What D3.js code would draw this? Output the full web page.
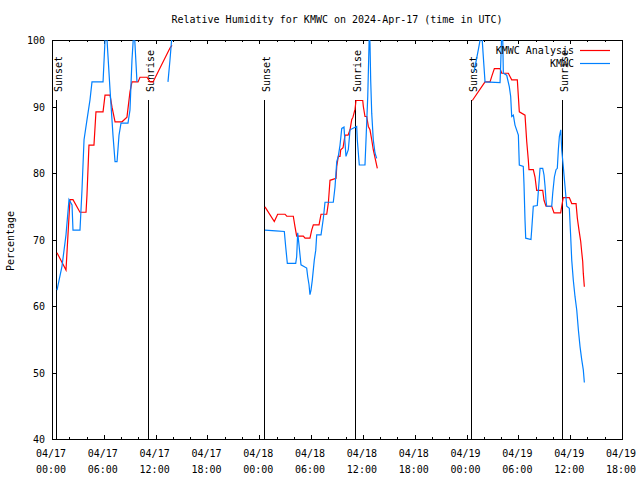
<!DOCTYPE html>
<html><head><meta charset="utf-8">
<script src="https://cdn.jsdelivr.net/npm/d3@7"></script>
<style>
body{margin:0;background:#fff;}
svg{display:block;}
text{font-family:"DejaVu Sans Mono",monospace;font-size:10px;fill:#000;}
</style></head><body>
<svg id="chart" width="640" height="480"></svg>
<script>
const titleText = "Relative Humidity for KMWC on 2024-Apr-17 (time in UTC)";
const yLabelText = "Percentage";
const seriesNames = ["KMWC Analysis", "KMWC"];
const seriesColors = ["#ff0000", "#0080ff"];
const yTicks = [40, 50, 60, 70, 80, 90, 100];
const xTickHours = [0, 6, 12, 18, 24, 30, 36, 42, 48, 54, 60, 66];
const xTickDates = ["04/17","04/17","04/17","04/17","04/18","04/18","04/18","04/18","04/19","04/19","04/19","04/19"];
const xTickTimes = ["00:00","06:00","12:00","18:00","00:00","06:00","12:00","18:00","00:00","06:00","12:00","18:00"];
const xMinorHours = d3.range(0, 67, 2);
const sunEventHours = [0.46, 11.12, 24.55, 35.09, 48.52, 59.06];
const sunEventLabels = ["Sunset", "Sunrise", "Sunset", "Sunrise", "Sunset", "Sunrise"];

// hours since 2024-04-17 00:00 UTC
const analysisHours = [
 0.58,1.62,2.08,2.43,3.24,3.94,4.05,4.28,4.86,5.09,5.91,6.14,6.72,6.95,7.30,8.11,8.68,9.03,9.26,9.96,10.19,11.00,11.35,11.70,13.66,13.90,
 24.66,25.74,26.13,26.98,27.18,27.94,28.14,28.33,29.10,29.30,29.87,30.07,30.26,30.92,31.15,31.81,32.00,32.19,32.89,32.97,33.15,33.35,33.43,33.70,33.93,34.28,34.51,34.70,34.85,35.09,35.20,35.98,36.05,36.24,36.44,36.63,36.82,37.02,37.20,37.40,37.67,
 48.67,50.14,50.72,50.91,51.22,51.88,52.07,52.84,53.03,53.23,53.88,54.00,54.11,54.77,54.97,55.15,55.23,55.73,55.93,56.12,56.82,56.97,57.20,57.86,58.13,58.90,59.02,59.20,59.90,60.18,60.68,60.83,61.02,61.22,61.33,61.45,61.52,61.64
];
const analysisRH = [
 68,65.4,76,76,74.1,74.1,76.7,84.2,84.2,89.2,89.2,91.7,91.7,89.9,87.7,87.7,88.4,92.2,93.7,93.7,94.4,94.4,93.7,93.7,98.8,99.2,
 74.9,72.7,73.8,73.8,73.5,73.5,71.9,70.5,70.5,70.2,70.2,71.4,72.2,72.2,73.8,73.8,75.5,78.9,79.2,81,82.5,82.5,83.5,83.8,85.7,85.7,86.5,88,88.4,89.6,90.9,90.9,90,88.5,88.5,87,86.5,85,83.5,82.3,80.7,
 90.9,93.7,93.7,94.5,95.7,95.7,95,95,94.5,94,94,91.5,89.2,88.7,84.7,82,80.5,80.5,79.4,77.4,77.4,75.9,75,75,74,74,75,76.3,76.3,75.4,75.4,73.2,71.4,69.7,68.2,66.7,64.9,62.9
];
const obsHours = [
 0.58,1.16,1.62,1.97,2.32,2.43,3.24,3.47,3.71,4.05,4.40,4.63,5.91,6.14,6.25,6.37,6.72,7.06,7.30,7.53,7.76,7.99,8.80,9.03,9.26,9.50,9.84,13.43,13.66,13.90,
 24.66,25.90,26.90,27.06,27.25,28.22,28.33,28.45,28.60,28.83,29.49,29.61,29.76,29.87,29.99,30.14,30.37,30.54,30.65,31.15,31.42,31.61,32.57,32.77,32.97,33.15,33.35,33.55,33.81,33.93,34.04,34.31,34.51,35.28,35.35,35.58,36.24,36.36,36.56,36.74,36.82,36.90,37.02,37.20,37.40,37.60,
 48.87,49.36,49.64,49.79,49.94,50.14,51.88,51.96,52.07,52.18,52.26,52.65,52.95,53.11,53.23,53.42,53.61,54.00,54.11,54.57,54.65,54.77,54.85,55.46,55.54,55.73,56.19,56.31,56.51,56.82,56.97,57.09,57.20,57.28,57.86,57.98,58.17,58.36,58.51,58.63,58.75,58.91,59.02,59.20,59.40,59.60,59.90,60.06,60.18,60.36,60.56,60.76,60.95,61.14,61.34,61.52,61.64
];
const obsRH = [
 62.4,66,70.7,76,75.2,71.4,71.4,77.4,85,88,91,93.7,93.7,100,102,100,92.5,85.7,81.7,81.7,85.7,87.5,87.5,89.5,97,102,93.7,93.7,97,100.8,
 71.4,71.3,71.2,68.9,66.4,66.4,67.4,71,69.2,66.2,65.7,64.4,63.2,61.7,62.4,63.9,66.9,68.4,70.7,70.7,73.2,75.6,75.6,77.9,81.7,82.5,84.2,86.7,86.9,84.5,82.5,83.5,86.5,87,85,81.2,81.2,85,91.5,101,99.5,94,89,85,83,82.2,
 95.2,98.5,100.5,100.5,97.5,93.7,93.6,96.5,101,101,95,94.7,93,91.5,88.5,88.7,87.2,85.7,81.2,81,78.4,72.9,70.2,70,71.4,75,75.1,77.2,80.7,80.7,79.7,78,75.9,75,75,77,79.4,80.5,80.7,83.5,85.5,86.5,83.5,81,78,75,74.7,70.4,66.9,63.9,61.4,59.4,56.4,53.9,51.9,50.4,48.5
];

const svg = d3.select("#chart");
const L = 52, R = 622, T = 40, B = 439;
const x = d3.scaleLinear().domain([0, 66]).range([L, R]);
const y = d3.scaleLinear().domain([40, 100]).range([B, T]);

svg.append("rect").attr("width", 640).attr("height", 480).attr("fill", "#fff");

// clip
svg.append("defs").append("clipPath").attr("id", "plotclip")
  .append("rect").attr("x", L).attr("y", T).attr("width", R - L + 1).attr("height", B - T + 1);

// axes ticks (inward, mirrored)
function styleAxis(g) {
  g.select(".domain").remove();
  g.selectAll(".tick line").attr("stroke", "#000").attr("shape-rendering", "crispEdges");
  g.selectAll(".tick text").remove();
}
svg.append("g").attr("transform", `translate(0,${B})`)
  .call(d3.axisBottom(x).tickValues(xMinorHours).tickSize(-2).tickFormat("")).call(styleAxis);
svg.append("g").attr("transform", `translate(0,${B})`)
  .call(d3.axisBottom(x).tickValues(xTickHours).tickSize(-4).tickFormat("")).call(styleAxis);
svg.append("g").attr("transform", `translate(0,${T})`)
  .call(d3.axisTop(x).tickValues(xMinorHours).tickSize(-2).tickFormat("")).call(styleAxis);
svg.append("g").attr("transform", `translate(0,${T})`)
  .call(d3.axisTop(x).tickValues(xTickHours).tickSize(-4).tickFormat("")).call(styleAxis);
svg.append("g").attr("transform", `translate(${L},0)`)
  .call(d3.axisLeft(y).tickValues(yTicks).tickSize(-5).tickFormat("")).call(styleAxis);
svg.append("g").attr("transform", `translate(${R},0)`)
  .call(d3.axisRight(y).tickValues(yTicks).tickSize(-5).tickFormat("")).call(styleAxis);

// tick labels
svg.append("g").selectAll("text").data(yTicks).join("text")
  .attr("x", 45).attr("y", d => y(d) + 4).attr("text-anchor", "end").text(d => d);
const xl = svg.append("g").selectAll("text").data(xTickHours).join("text")
  .attr("text-anchor", "middle");
xl.append("tspan").attr("x", d => x(d) - 1).attr("y", 457).text((d, i) => xTickDates[i]);
xl.append("tspan").attr("x", d => x(d) - 1).attr("y", 473).text((d, i) => xTickTimes[i]);

// frame
svg.append("rect").attr("x", L + 0.5).attr("y", T + 0.5).attr("width", R - L).attr("height", B - T)
  .attr("fill", "none").attr("stroke", "#000").attr("shape-rendering", "crispEdges");

// title & y label
svg.append("text").attr("x", (L + R) / 2).attr("y", 23).attr("text-anchor", "middle").text(titleText);
svg.append("text").attr("transform", `translate(14,241) rotate(-90)`).attr("text-anchor", "middle").text(yLabelText);

// sunrise / sunset markers
const sun = svg.append("g");
sunEventHours.forEach((h, i) => {
  const sx = Math.round(x(h)) + 0.5;
  sun.append("line").attr("x1", sx).attr("x2", sx).attr("y1", y(91)).attr("y2", B)
    .attr("stroke", "#000").attr("shape-rendering", "crispEdges");
  sun.append("text").attr("transform", `translate(${sx + 5},92) rotate(-90)`).text(sunEventLabels[i]);
});

// series
function makeData(hours, vals) {
  const n = Math.min(hours.length, vals.length);
  const out = [];
  for (let i = 0; i < n; i++) {
    if (i > 0 && hours[i] - hours[i - 1] > 3) out.push(null);
    out.push({ h: hours[i], v: vals[i] });
  }
  return out;
}
const line = d3.line().defined(d => d !== null).x(d => x(d.h)).y(d => y(d.v));
const plot = svg.append("g").attr("clip-path", "url(#plotclip)");
plot.append("path").datum(makeData(analysisHours, analysisRH))
  .attr("d", line).attr("fill", "none").attr("stroke", seriesColors[0]).attr("stroke-width", 1.2);
plot.append("path").datum(makeData(obsHours, obsRH))
  .attr("d", line).attr("fill", "none").attr("stroke", seriesColors[1]).attr("stroke-width", 1.2);

// legend
const leg = svg.append("g");
seriesNames.forEach((name, i) => {
  const ly = 49.5 + i * 13.5;
  leg.append("text").attr("x", 574).attr("y", ly + 4).attr("text-anchor", "end").text(name);
  leg.append("line").attr("x1", 580).attr("x2", 610).attr("y1", Math.round(ly) + 0.5).attr("y2", Math.round(ly) + 0.5)
    .attr("stroke", seriesColors[i]).attr("stroke-width", 1.2);
});
</script>
</body></html>
